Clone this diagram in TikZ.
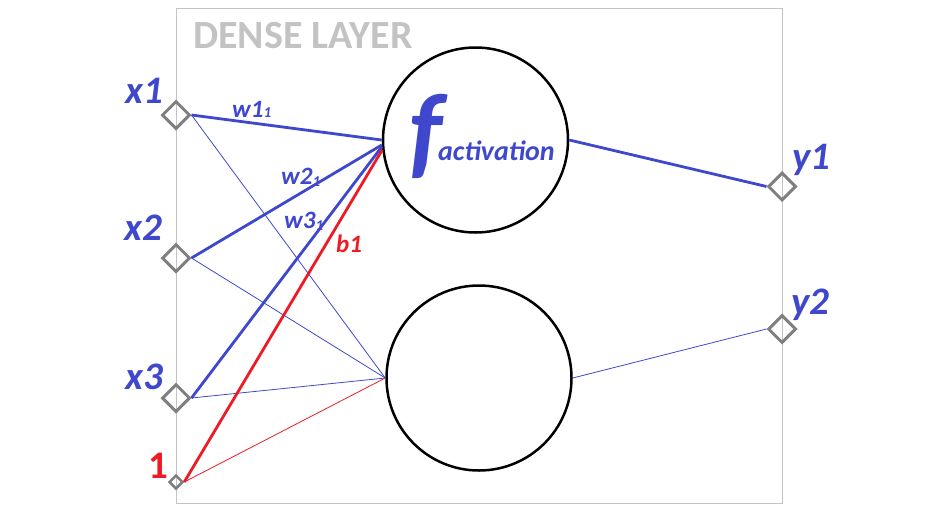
\documentclass[tikz,border=0pt]{standalone}
\usepackage{fontspec}
\setmainfont{Carlito}
\usetikzlibrary{shapes.geometric}
\definecolor{nblue}{RGB}{63,72,204}
\definecolor{nred}{RGB}{237,28,36}
\definecolor{dgray}{RGB}{127,127,127}
\definecolor{lgray}{RGB}{195,195,195}
\begin{document}
\begin{tikzpicture}[x=1pt,y=-1pt,
  inp/.style={draw=dgray,line width=3pt,shape=diamond,minimum width=28pt,minimum height=28pt,inner sep=0pt},
  smallinp/.style={inp,line width=2.5pt,minimum width=14pt,minimum height=14pt},
  neuron/.style={draw=black,line width=2.5pt,shape=circle,minimum size=185pt,inner sep=0pt},
  lbl/.style={inner sep=0pt,anchor=base west,text=nblue,font=\fontsize{39}{39}\selectfont\bfseries\itshape},
  wlbl/.style={inner sep=0pt,anchor=base west,text=nblue,font=\fontsize{25}{25}\selectfont\bfseries\itshape},
  thick blue/.style={draw=nblue,line width=2.8pt},
  thin blue/.style={draw=nblue,line width=0.8pt},
  thick red/.style={draw=nred,line width=2.8pt},
  thin red/.style={draw=nred,line width=0.8pt}]
\useasboundingbox (0,0) rectangle (945,512);
\draw[lgray,line width=1pt] (176,8) rectangle (782,503);
\node[inner sep=0pt,anchor=base west,text=lgray,font=\fontsize{40}{40}\selectfont\bfseries] (title) at (193,48) {DENSE LAYER};
% nodes
\node[inp] (x1) at (176,115) {};
\node[inp] (x2) at (176,258) {};
\node[inp] (x3) at (176,398) {};
\node[smallinp] (b) at (176,482) {};
\node[neuron] (c1) at (475.5,140) {};
\node[neuron] (c2) at (479,378) {};
\node[inp] (y1) at (782,186.5) {};
\node[inp] (y2) at (782,329) {};
% connectors
\draw[thin blue] (x1.east) -- (c2.west);
\draw[thin blue] (x2.east) -- (c2.west);
\draw[thin blue] (x3.east) -- (c2.west);
\draw[thin red] (b.east) -- (c2.west);
\draw[thick blue] (x1.east) -- (c1.180);
\draw[thick blue] (x2.east) -- (c1.183);
\draw[thick blue] (x3.east) -- (c1.184.5);
\draw[thick red] (b.east) -- (c1.186);
\draw[thick blue] (c1.east) -- (y1.west);
\draw[thin blue] (c2.east) -- (y2.west);
% labels
\node[lbl] (lx1) at (125,103) {x1};
\node[lbl] (lx2) at (124,240) {x2};
\node[lbl] (lx3) at (125,389) {x3};
\node[inner sep=0pt,anchor=base west,text=nred,font=\fontsize{39}{39}\selectfont\bfseries] (lb) at (148,478) {1};
\node[lbl] (ly1) at (792,169) {y1};
\node[lbl] (ly2) at (791,314) {y2};
\node[wlbl] (w1) at (232,117) {w1{\fontsize{15}{15}\selectfont 1}};
\node[wlbl] (w2) at (281,184) {w2{\fontsize{15}{15}\selectfont\raisebox{-2pt}{1}}};
\node[wlbl] (w3) at (284,228) {w3{\fontsize{15}{15}\selectfont\raisebox{-2pt}{1}}};
\node[wlbl,text=nred] (b1) at (336,252) {b1};
\node[inner sep=0pt,anchor=base west,text=nblue,font=\fontsize{104}{104}\selectfont\bfseries\itshape] (f) at (409,166) {f};
\node[wlbl,font=\fontsize{28}{28}\selectfont\bfseries\itshape] (act) at (438,160) {activation};
\end{tikzpicture}
\end{document}
